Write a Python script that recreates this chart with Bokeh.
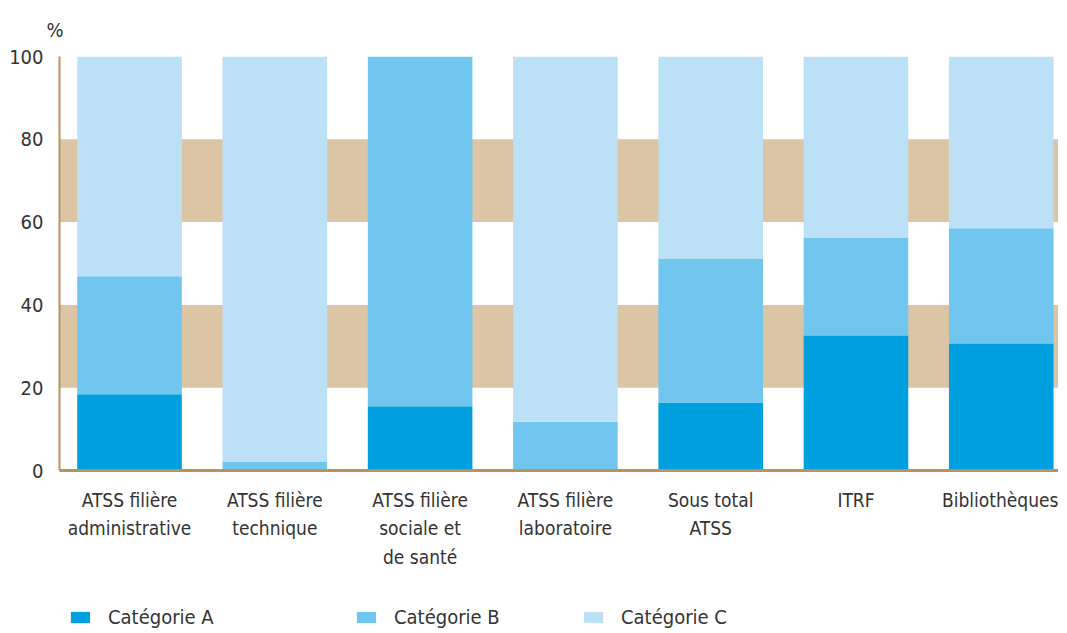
from bokeh.plotting import figure
from bokeh.layouts import column
from bokeh.models import (ColumnDataSource, BoxAnnotation, Legend, LegendItem,
                          Range1d, FixedTicker, Title)
from bokeh.embed import file_html
from bokeh.resources import INLINE

categories = ["ATSS filière\nadministrative", "ATSS filière\ntechnique",
              "ATSS filière\nsociale et\nde santé", "ATSS filière\nlaboratoire",
              "Sous total\nATSS", "ITRF", "Bibliothèques"]
cat_a = [18.4, 0.0, 15.5, 0.0, 16.4, 32.6, 30.7]
cat_b = [28.5, 2.2, 84.5, 11.8, 34.8, 23.7, 27.8]
cat_c = [53.1, 97.8, 0.0, 88.2, 48.8, 43.7, 41.5]
series_names = ["Catégorie A", "Catégorie B", "Catégorie C"]
colors = ["#009fe0", "#70c6ee", "#bce0f6"]
y_ticks = [0, 20, 40, 60, 80, 100]

FONT = "'DejaVu Sans Condensed', sans-serif"
FS = "19px"
TXT = "#333333"

x = list(range(len(categories)))
src = ColumnDataSource(dict(x=x, a=cat_a, b=cat_b, c=cat_c))

p = figure(width=1058, height=577, output_backend="svg", toolbar_location=None,
           x_range=Range1d(-0.482, 6.394), y_range=Range1d(0, 100),
           min_border_left=59, min_border_right=0, min_border_top=56,
           min_border_bottom=107)
p.outline_line_color = None
p.xgrid.grid_line_color = None
p.ygrid.grid_line_color = None

pct = Title(text="%", align="left", offset=-13, text_font=FONT,
            text_font_size="20px", text_color=TXT, text_font_style="normal",
            standoff=29)
p.add_layout(pct, "above")

for lo, hi in [(20, 40), (60, 80)]:
    p.add_layout(BoxAnnotation(bottom=lo, top=hi, fill_color="#dcc5a5",
                               fill_alpha=1.0, line_color=None, level="underlay"))

rs = p.vbar_stack(["a", "b", "c"], x="x", width=0.72, source=src,
                  color=colors, line_color=None)

# axes
p.xaxis.ticker = FixedTicker(ticks=x)
p.xaxis.major_label_overrides = {i: c for i, c in enumerate(categories)}
p.yaxis.ticker = FixedTicker(ticks=y_ticks)
for ax in (p.xaxis, p.yaxis):
    ax.major_tick_line_color = None
    ax.minor_tick_line_color = None
    ax.axis_line_color = "#b9925e"
    ax.major_label_text_font = FONT
    ax.major_label_text_color = TXT
p.xaxis.major_label_text_font_size = FS
p.yaxis.major_label_text_font_size = "20px"
p.xaxis.major_label_text_line_height = 1.3
p.xaxis.axis_line_width = 3
p.yaxis.axis_line_width = 2
p.xaxis.major_label_standoff = 12
p.yaxis.major_label_standoff = 10

# legend strip below the chart
p2 = figure(width=1058, height=52, output_backend="svg", toolbar_location=None,
            x_range=Range1d(0, 1), y_range=Range1d(0, 1),
            x_axis_location=None, y_axis_location=None,
            min_border=0, min_border_left=0, min_border_right=0,
            min_border_top=0, min_border_bottom=0)
p2.grid.visible = False
p2.outline_line_color = None
legend_x = [9, 295, 522]
for col, name, lx in zip(colors, series_names, legend_x):
    r = p2.vbar(x=[0], top=[0], width=0, color=col, line_color=None)
    lg = Legend(items=[LegendItem(label=name, renderers=[r])], location=(lx, 0),
                orientation="horizontal", border_line_color=None,
                background_fill_alpha=0, padding=0, margin=0,
                glyph_width=24, glyph_height=14, label_standoff=16,
                label_text_font=FONT, label_text_font_size="20px",
                label_text_color=TXT)
    p2.add_layout(lg, "center")

layout = column(p, p2, spacing=0)
open("out.html", "w").write(file_html(layout, INLINE))
